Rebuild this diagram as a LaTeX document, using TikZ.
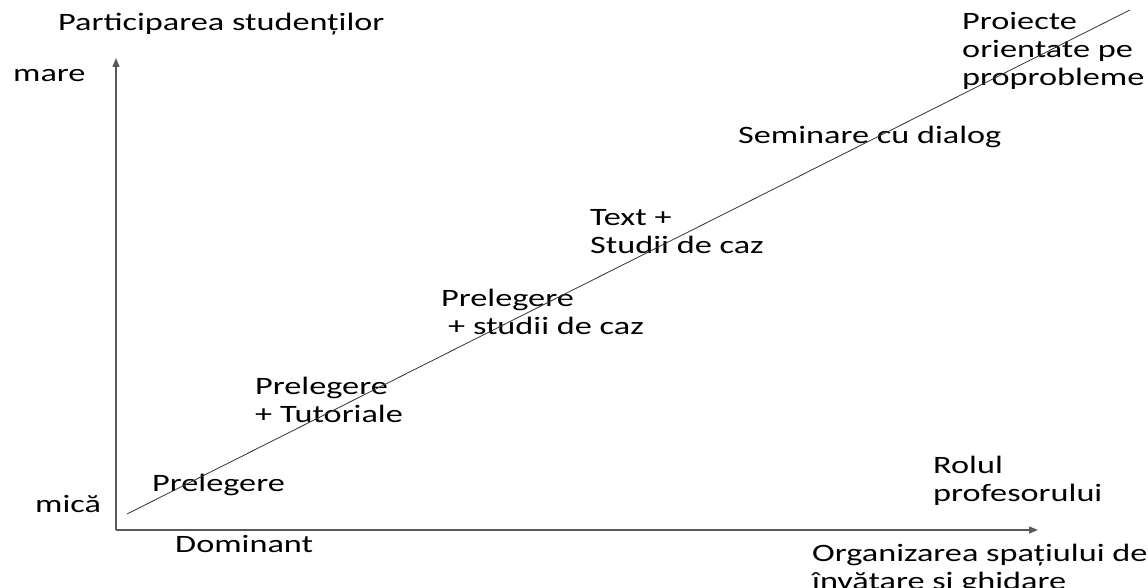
\documentclass[tikz,border=0pt]{standalone}
\usepackage{fontspec}
\setmainfont[FakeStretch=1.37]{Carlito}
\usepackage{tikz}
\usetikzlibrary{arrows.meta}

\begin{document}
\begin{tikzpicture}[x=1pt,y=1pt]

        \useasboundingbox (0,0) rectangle (1148,588);

        \coordinate (O)     at (116,58);
        \coordinate (ytop)  at (116,530);
        \coordinate (xend)  at (1038,58);
        \coordinate (dlow)  at (127,74);
        \coordinate (dhigh) at (1130,578);

        % multi-line nodes sit on the baseline of their last line
        \begin{scope}[every node/.style={anchor=base west, align=left, inner sep=0pt,
                      font=\fontsize{25}{28}\selectfont}]
          \node (ylabel) at (58,557)  {Participarea studenților};
          \node (mare)   at (13,506)  {mare};
          \node (mica)   at (35,75)   {mică};
          \node (dom)    at (175,35)  {Dominant};
          \node (p1)     at (152,96)  {Prelegere};
          \node (p2)     at (255,165) {Prelegere\\+ Tutoriale};
          \node (p3)     at (441,253) {Prelegere\\\hspace{7pt}+ studii de caz};
          \node (txt)    at (590,334) {Text +\\Studii de caz};
          \node (sem)    at (738,444) {Seminare cu dialog};
          \node (proj)   at (962,502) {Proiecte\\orientate pe\\proprobleme};
          \node (rol)    at (933,86)  {Rolul\\profesorului};
          \node (org)    at (812,-2)  {Organizarea spațiului de\\învățare și ghidare};
        \end{scope}

        \begin{scope}[line width=1.2pt, draw=black!65, -{Triangle[length=9pt,width=7pt]}]
          \draw (O) -- (ytop);
          \draw (O) -- (xend);
        \end{scope}

        \draw[line width=0.8pt, black!80] (dlow) -- (dhigh);

      \end{tikzpicture}
\end{document}
